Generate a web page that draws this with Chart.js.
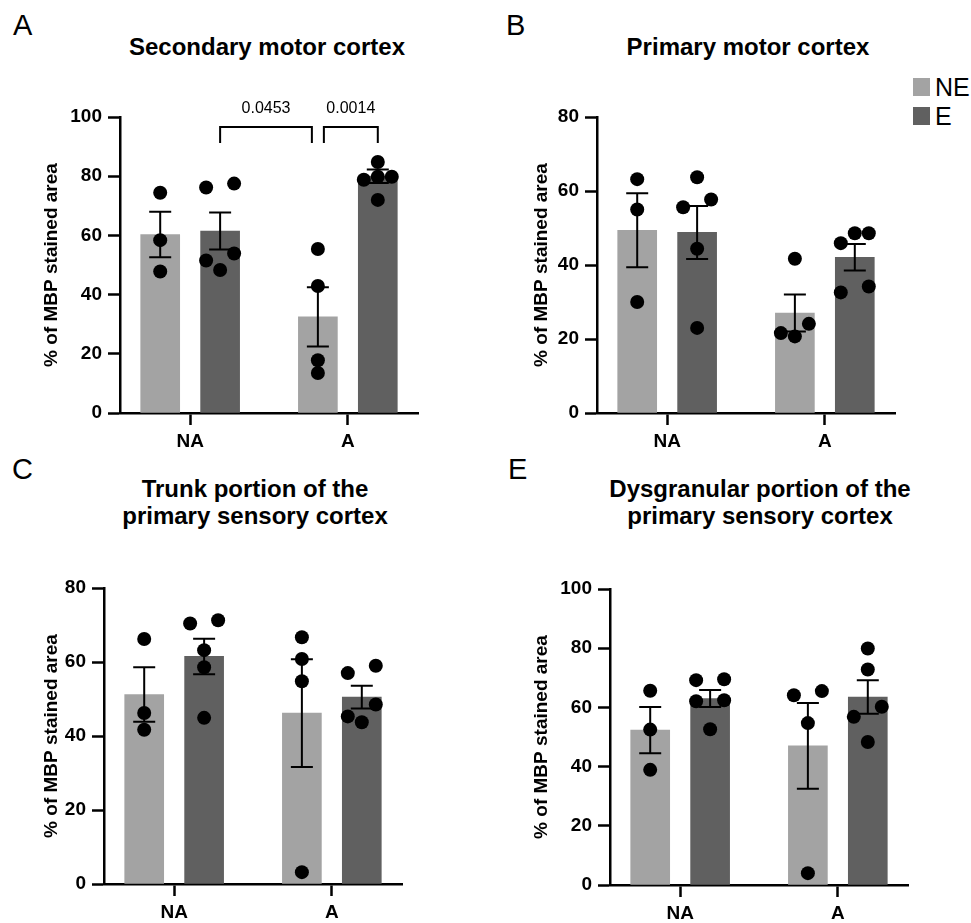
<!DOCTYPE html>
<html>
<head>
<meta charset="utf-8">
<script src="https://cdn.jsdelivr.net/npm/chart.js@4.4.1/dist/chart.umd.min.js"></script>
<style>
  body { margin: 0; background: #fff; width: 971px; height: 923px; position: relative; overflow: hidden;
         font-family: Arial, 'Liberation Sans', Helvetica, sans-serif; color: #000; }
  canvas { position: absolute; }
  .letter { position: absolute; font-size: 29px; line-height: 29px; }
  .title { position: absolute; width: 420px; font-size: 24px; line-height: 27px; font-weight: bold; text-align: center; }
  .sw { position: absolute; width: 17px; height: 18px; }
  .key { position: absolute; font-size: 25px; line-height: 25px; }
</style>
</head>
<body>
<div class="letter" style="left:13px;top:11px">A</div>
<div class="letter" style="left:506px;top:11px">B</div>
<div class="letter" style="left:12px;top:455px">C</div>
<div class="letter" style="left:508px;top:455px">E</div>

<div class="title" style="left:57px;top:33px">Secondary motor cortex</div>
<div class="title" style="left:538px;top:33px">Primary motor cortex</div>
<div class="title" style="left:45px;top:475px">Trunk portion of the<br>primary sensory cortex</div>
<div class="title" style="left:550px;top:475px">Dysgranular portion of the<br>primary sensory cortex</div>

<div class="sw" id="swNE" style="left:913px;top:78px"></div>
<div class="key" style="left:935px;top:75px">NE</div>
<div class="sw" id="swE" style="left:913px;top:107px"></div>
<div class="key" style="left:935px;top:104px">E</div>

<canvas id="c-m2" width="388" height="366" style="left:40px;top:87px"></canvas>
<canvas id="c-m1" width="375" height="366" style="left:530px;top:87px"></canvas>
<canvas id="c-trunk" width="372" height="366" style="left:40px;top:558px"></canvas>
<canvas id="c-dysg" width="388" height="366" style="left:530px;top:559px"></canvas>

<script>
const groups = ['NA', 'A'];
const series = ['NE', 'E'];

// Secondary motor cortex
const m2MeanNE = [60.3, 32.5];
const m2MeanE = [61.5, 80.0];
const m2SemNE = [7.7, 10.0];
const m2SemE = [6.25, 2.3];
const m2PtsNE = [[74.4, 58.4, 47.8], [55.4, 42.9, 17.8, 13.5]];
const m2PtsE = [[76.2, 77.5, 53.9, 51.5, 48.3], [84.8, 79.8, 79.8, 78.8, 72.0]];
const m2Brackets = [
  { from: [0, 'E'], to: [1, 'NE'], text: '0.0453' },
  { from: [1, 'NE'], to: [1, 'E'], text: '0.0014' }
];

// Primary motor cortex
const m1MeanNE = [49.4, 27.0];
const m1MeanE = [48.8, 42.1];
const m1SemNE = [10.0, 5.0];
const m1SemE = [7.15, 3.6];
const m1PtsNE = [[63.2, 55.0, 30.0], [41.7, 24.1, 21.6, 20.7]];
const m1PtsE = [[63.7, 57.7, 55.6, 44.4, 23.0], [48.6, 48.6, 45.9, 34.2, 32.6]];

// Trunk portion of the primary sensory cortex
const trMeanNE = [51.2, 46.2];
const trMeanE = [61.5, 50.5];
const trSemNE = [7.35, 14.55];
const trSemE = [4.8, 3.05];
const trPtsNE = [[66.2, 46.2, 41.7], [66.7, 60.8, 54.8, 3.2]];
const trPtsE = [[71.3, 70.4, 63.2, 58.6, 44.9], [59.0, 57.0, 48.5, 45.3, 43.7]];

// Dysgranular portion of the primary sensory cortex
const dgMeanNE = [52.3, 47.0];
const dgMeanE = [63.0, 63.5];
const dgSemNE = [7.8, 14.5];
const dgSemE = [2.85, 5.65];
const dgPtsNE = [[65.6, 52.5, 38.9], [65.5, 64.1, 54.7, 4.0]];
const dgPtsE = [[69.5, 69.2, 62.4, 62.1, 52.6], [79.9, 72.8, 60.2, 56.8, 48.3]];

const COLORS = { NE: '#a3a3a3', E: '#606060' };
const FONT = "Arial, 'Liberation Sans', Helvetica, sans-serif";
const PLOT_W = 298, PLOT_H = 296;
const X_MIN = -0.445, X_MAX = 1.445;
const PX_PER_X = PLOT_W / (X_MAX - X_MIN);
const BAR_SHIFT = 0.19;
const DOT_STEP = 14, ROW_GAP = 12;

document.getElementById('swNE').style.background = COLORS.NE;
document.getElementById('swE').style.background = COLORS.E;

function barX(g, s) { return g + (s === 'NE' ? -BAR_SHIFT : BAR_SHIFT); }

// spread points that sit at about the same height side by side (px offsets)
function spread(values, yMax) {
  const pxPerY = PLOT_H / yMax;
  const order = values.map((v, i) => i).sort((a, b) => values[b] - values[a]);
  const offs = values.map(() => 0);
  let row = [];
  const flush = () => {
    row.sort((a, b) => values[a] - values[b]);
    const n = row.length;
    row.forEach((idx, k) => { offs[idx] = n < 2 ? 0 : (-1 + 2 * k / (n - 1)) * DOT_STEP; });
    row = [];
  };
  order.forEach(idx => {
    if (row.length && (values[row[0]] - values[idx]) * pxPerY > ROW_GAP) flush();
    row.push(idx);
  });
  flush();
  return offs;
}

const errorBars = {
  id: 'errorBars',
  afterDatasetDraw(chart, args) {
    const ds = chart.data.datasets[args.index];
    if (!ds.sem) return;
    const y = chart.scales.y, ctx = chart.ctx;
    ctx.save();
    ctx.strokeStyle = '#000';
    ctx.lineWidth = 2;
    args.meta.data.forEach((bar, i) => {
      const m = ds.data[i].y, s = ds.sem[i];
      const top = y.getPixelForValue(m + s), bot = y.getPixelForValue(m - s);
      ctx.beginPath();
      ctx.moveTo(bar.x, top); ctx.lineTo(bar.x, bot);
      ctx.moveTo(bar.x - 11, top); ctx.lineTo(bar.x + 11, top);
      ctx.moveTo(bar.x - 11, bot); ctx.lineTo(bar.x + 11, bot);
      ctx.stroke();
    });
    ctx.restore();
  }
};

const brackets = {
  id: 'brackets',
  afterDraw(chart, args, opts) {
    const items = opts.items || [];
    if (!items.length) return;
    const x = chart.scales.x, top = chart.chartArea.top, ctx = chart.ctx;
    const key = e => e[0] + e[1];
    const used = {};
    items.forEach(b => { used[key(b.from)] = (used[key(b.from)] || 0) + 1; used[key(b.to)] = (used[key(b.to)] || 0) + 1; });
    ctx.save();
    ctx.strokeStyle = '#000';
    ctx.lineWidth = 2;
    ctx.fillStyle = '#000';
    ctx.font = '16px ' + FONT;
    ctx.textAlign = 'center';
    ctx.textBaseline = 'middle';
    items.forEach(b => {
      let x1 = x.getPixelForValue(barX(b.from[0], b.from[1]));
      let x2 = x.getPixelForValue(barX(b.to[0], b.to[1]));
      if (used[key(b.from)] > 1) x1 += 6;
      if (used[key(b.to)] > 1) x2 -= 6;
      ctx.beginPath();
      ctx.moveTo(x1, top + 26); ctx.lineTo(x1, top + 10);
      ctx.lineTo(x2, top + 10); ctx.lineTo(x2, top + 26);
      ctx.stroke();
      ctx.fillText(b.text, (x1 + x2) / 2, top - 8);
    });
    ctx.restore();
  }
};

function makePanel(id, yMax, axisW, meanNE, meanE, semNE, semE, ptsNE, ptsE, bracketItems) {
  const means = { NE: meanNE, E: meanE };
  const sems = { NE: semNE, E: semE };
  const pts = { NE: ptsNE, E: ptsE };
  const datasets = [];
  series.forEach(s => {
    datasets.push({
      type: 'bar',
      label: s,
      data: groups.map((g, i) => ({ x: barX(i, s), y: means[s][i] })),
      sem: sems[s],
      backgroundColor: COLORS[s],
      borderWidth: 0,
      barThickness: 39,
      maxBarThickness: 39,
      grouped: false,
      order: 2
    });
    const dots = [];
    groups.forEach((g, i) => {
      const offs = spread(pts[s][i], yMax);
      pts[s][i].forEach((v, k) => dots.push({ x: barX(i, s) + offs[k] / PX_PER_X, y: v }));
    });
    datasets.push({
      type: 'scatter',
      label: s + ' values',
      data: dots,
      pointRadius: 7,
      pointHoverRadius: 7,
      backgroundColor: '#000',
      borderWidth: 0,
      order: 1
    });
  });

  const tickFont = { family: FONT, size: 19, weight: 'bold' };
  const axisGrid = { drawOnChartArea: false, offset: false, tickLength: 12, tickWidth: 2.5, tickColor: '#000' };
  const axisBorder = { color: '#000', width: 2.5 };

  new Chart(document.getElementById(id), {
    type: 'bar',
    data: { datasets },
    options: {
      responsive: false,
      animation: false,
      layout: { padding: { top: 30, right: 10, left: 0, bottom: 0 } },
      plugins: {
        legend: { display: false },
        tooltip: { enabled: false },
        brackets: { items: bracketItems || [] }
      },
      scales: {
        x: {
          type: 'linear',
          offset: false,
          min: X_MIN,
          max: X_MAX,
          afterBuildTicks: sc => { sc.ticks = groups.map((g, i) => ({ value: i })); },
          afterFit: sc => { sc.height = 40; },
          ticks: {
            callback: v => groups[Math.round(v)],
            font: tickFont, color: '#000', padding: 5, autoSkip: false, maxRotation: 0
          },
          grid: axisGrid,
          border: axisBorder
        },
        y: {
          min: 0,
          max: yMax,
          afterFit: sc => { sc.width = axisW; },
          ticks: { stepSize: 20, font: tickFont, color: '#000', padding: 6 },
          grid: axisGrid,
          border: axisBorder,
          title: {
            display: true,
            text: '% of MBP stained area',
            color: '#000',
            font: { family: FONT, size: 19, weight: 'bold' },
            padding: { top: 0, bottom: 0 }
          }
        }
      }
    },
    plugins: [errorBars, brackets]
  });
}

makePanel('c-m2', 100, 80, m2MeanNE, m2MeanE, m2SemNE, m2SemE, m2PtsNE, m2PtsE, m2Brackets);
makePanel('c-m1', 80, 67, m1MeanNE, m1MeanE, m1SemNE, m1SemE, m1PtsNE, m1PtsE);
makePanel('c-trunk', 80, 64, trMeanNE, trMeanE, trSemNE, trSemE, trPtsNE, trPtsE);
makePanel('c-dysg', 100, 80, dgMeanNE, dgMeanE, dgSemNE, dgSemE, dgPtsNE, dgPtsE);
</script>
</body>
</html>
